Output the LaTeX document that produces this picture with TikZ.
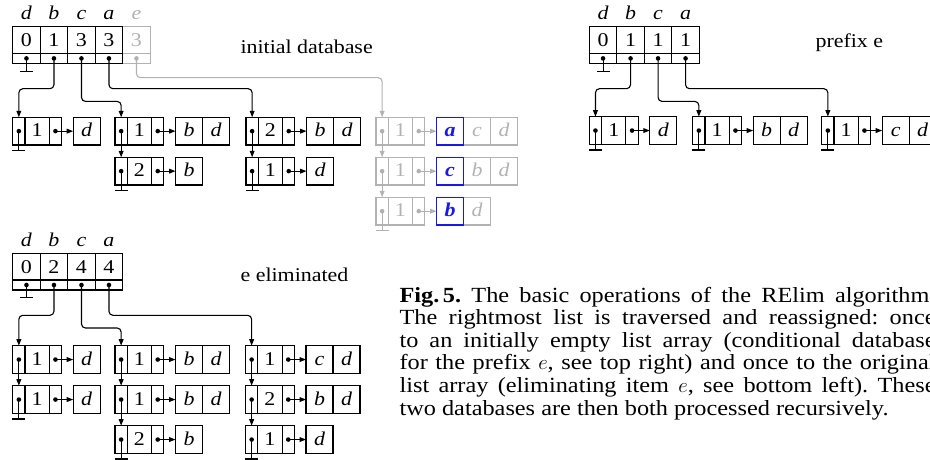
\documentclass[tikz,border=0pt]{standalone}
\usepackage{fontspec}
\setmainfont{Liberation Serif}[FakeStretch=1.125]
\usetikzlibrary{arrows.meta, positioning}
\definecolor{fadegray}{RGB}{178,178,178}
\definecolor{hotblue}{RGB}{25,25,230}
\newcommand{\figfont}{\fontsize{19.5}{22}\selectfont}
\newcommand{\capfont}{\fontsize{21.6}{22.6}\selectfont\frenchspacing}

% array of list heads: name, x, y, label/count pairs
\newcommand{\headarray}[4]{%
  \foreach \lab/\num [count=\k] in {#4} {
    \node[acnt, anchor=north west] (#1c\k) at ({#2+(\k-1)*27.5},#3) {\num};
    \node[aptr, below=0pt of #1c\k] (#1p\k) {};
    \fill (#1p\k.center) circle (2.3pt);
    \path (#1c\k.north) ++(0,-7) node[alab] {\lab};
  }}
% one list element: name, x, y, count, items
\newcommand{\listelem}[5]{%
  \node[eptr, anchor=north west] (#1l) at (#2,#3) {};
  \node[cnt, right=0pt of #1l] (#1c) {#4};
  \node[eptr, right=0pt of #1c] (#1r) {};
  \fill (#1l.center) circle (2.3pt) (#1r.center) circle (2.3pt);
  \foreach \lt [count=\k] in {#5} {
    \ifnum\k=1 \xdef\firstlt{\lt}\else
      \path (#1r.east) ++({11.6+(\k-1)*27},0) node[itm, anchor=west] (#1i\k) {\lt};
    \fi
  }
  \node[itm, firstitm, right=11.6pt of #1r] (#1i1) {\firstlt};
  \draw[nextarrow] (#1r.center) -- (#1i1.west);
}

\begin{document}
\begin{tikzpicture}[
    x=1pt, y=-1pt, line width=1.1pt,
    acnt/.style={draw, minimum width=27.5pt, minimum height=26.7pt,
                 inner sep=0pt, outer sep=0pt, font=\figfont,
                 text height=13.3pt, text depth=0pt},
    aptr/.style={draw, minimum width=27.5pt, minimum height=10pt,
                 inner sep=0pt, outer sep=0pt},
    eptr/.style={draw, minimum width=12.3pt, minimum height=27.7pt,
                 inner sep=0pt, outer sep=0pt},
    cnt/.style={draw, minimum width=24.3pt, minimum height=27.7pt,
                inner sep=0pt, outer sep=0pt, font=\figfont,
                text height=14pt, text depth=2.5pt},
    itm/.style={cnt, minimum width=27pt, font=\figfont\itshape},
    firstitm/.style={},
    alab/.style={anchor=base, inner sep=0pt, font=\figfont\itshape},
    nextarrow/.style={-{Triangle[length=6.5pt,width=4.8pt]}},
    link/.style={nextarrow, rounded corners=4pt},
    ground/.style={-{Bar[width=13pt]}},
    note/.style={anchor=west, inner sep=0pt, font=\figfont},
    caption/.style={anchor=base west, inner sep=0pt, font=\capfont,
                    text width=536pt, align=justify},
]
\useasboundingbox (0,0) rectangle (930,460);

% initial database
\begin{scope}[fadegray]
  \headarray{ie}{122.7}{26.7}{e/3}
  \begin{scope}[firstitm/.style={draw=hotblue, text=hotblue,
                                 font=\figfont\bfseries\itshape}]
    \listelem{ie1}{376}{117.3}{1}{a,c,d}
    \listelem{ie2}{376}{157.3}{1}{c,b,d}
    \listelem{ie3}{376}{197.3}{1}{b,d}
  \end{scope}
  \draw[nextarrow] (ie1l.center) -- (ie2l.north);
  \draw[nextarrow] (ie2l.center) -- (ie3l.north);
  \draw[ground] (ie3l.center) -- ++(0,20);
  \draw[link] (iep1.center) -- ++(0,19.3) -| (ie1l.north);
\end{scope}
\headarray{ia}{12.7}{26.7}{d/0, b/1, c/3, a/3}
\draw[ground] (iap1.center) -- ++(0,13.3);

\listelem{ib1}{12.7}{117.3}{1}{d}
\listelem{ic1}{115}{117.3}{1}{b,d}
\listelem{ic2}{115}{157.3}{2}{b}
\listelem{ia1}{246}{117.3}{2}{b,d}
\listelem{ia2}{246}{157.3}{1}{d}
\draw[ground] (ib1l.center) -- ++(0,20);
\draw[nextarrow] (ic1l.center) -- (ic2l.north);
\draw[ground] (ic2l.center) -- ++(0,20);
\draw[nextarrow] (ia1l.center) -- (ia2l.north);
\draw[ground] (ia2l.center) -- ++(0,20);

\draw[link] (iap2.center) -- ++(0,30.3) -| (ib1l.north);
\draw[link] (iap3.center) -- ++(0,43) -| (ic1l.north);
\draw[link] (iap4.center) -- ++(0,30.3) -| (ia1l.north);
\node[note] (initnote) at (240,47) {initial database};

% conditional database for prefix e
\headarray{pa}{589.3}{26.7}{d/0, b/1, c/1, a/1}
\draw[ground] (pap1.center) -- ++(0,13.3);
\listelem{pb1}{589.3}{116.7}{1}{d}
\listelem{pc1}{692.7}{116.7}{1}{b,d}
\listelem{pa1}{821.7}{116.7}{1}{c,d}
\draw[ground] (pb1l.center) -- ++(0,20);
\draw[ground] (pc1l.center) -- ++(0,20);
\draw[ground] (pa1l.center) -- ++(0,20);
\draw[link] (pap2.center) -- ++(0,30.3) -| (pb1l.north);
\draw[link] (pap3.center) -- ++(0,43) -| (pc1l.north);
\draw[link] (pap4.center) -- ++(0,30.3) -| (pa1l.north);
\node[note] (prefnote) at (815,43) {prefix e};

% database with e eliminated
\headarray{xa}{12.7}{253.3}{d/0, b/2, c/4, a/4}
\draw[ground] (xap1.center) -- ++(0,13.3);
\listelem{xb1}{12.7}{345.7}{1}{d}
\listelem{xb2}{12.7}{385.7}{1}{d}
\listelem{xc1}{115}{345.7}{1}{b,d}
\listelem{xc2}{115}{385.7}{1}{b,d}
\listelem{xc3}{115}{425.7}{2}{b}
\listelem{xa1}{245.5}{345.7}{1}{c,d}
\listelem{xa2}{245.5}{385.7}{2}{b,d}
\listelem{xa3}{245.5}{425.7}{1}{d}
\draw[nextarrow] (xb1l.center) -- (xb2l.north);
\draw[ground] (xb2l.center) -- ++(0,20);
\draw[nextarrow] (xc1l.center) -- (xc2l.north);
\draw[nextarrow] (xc2l.center) -- (xc3l.north);
\draw[ground] (xc3l.center) -- ++(0,20);
\draw[nextarrow] (xa1l.center) -- (xa2l.north);
\draw[nextarrow] (xa2l.center) -- (xa3l.north);
\draw[ground] (xa3l.center) -- ++(0,20);
\draw[link] (xap2.center) -- ++(0,30.3) -| (xb1l.north);
\draw[link] (xap3.center) -- ++(0,43) -| (xc1l.north);
\draw[link] (xap4.center) -- ++(0,30.3) -| (xa1l.north);
\node[note] (elimnote) at (240,275) {e eliminated};

\node[caption] (cap) at (399,302) {\textbf{Fig.\,5.} The basic operations of the RElim algorithm.\linebreak
  The rightmost list is traversed and reassigned: once\linebreak
  to an initially empty list array (conditional database\linebreak
  for the prefix $e$, see top right) and once to the original\linebreak
  list array (eliminating item $e$, see bottom left). These\linebreak
  two databases are then both processed recursively.};
\end{tikzpicture}
\end{document}
